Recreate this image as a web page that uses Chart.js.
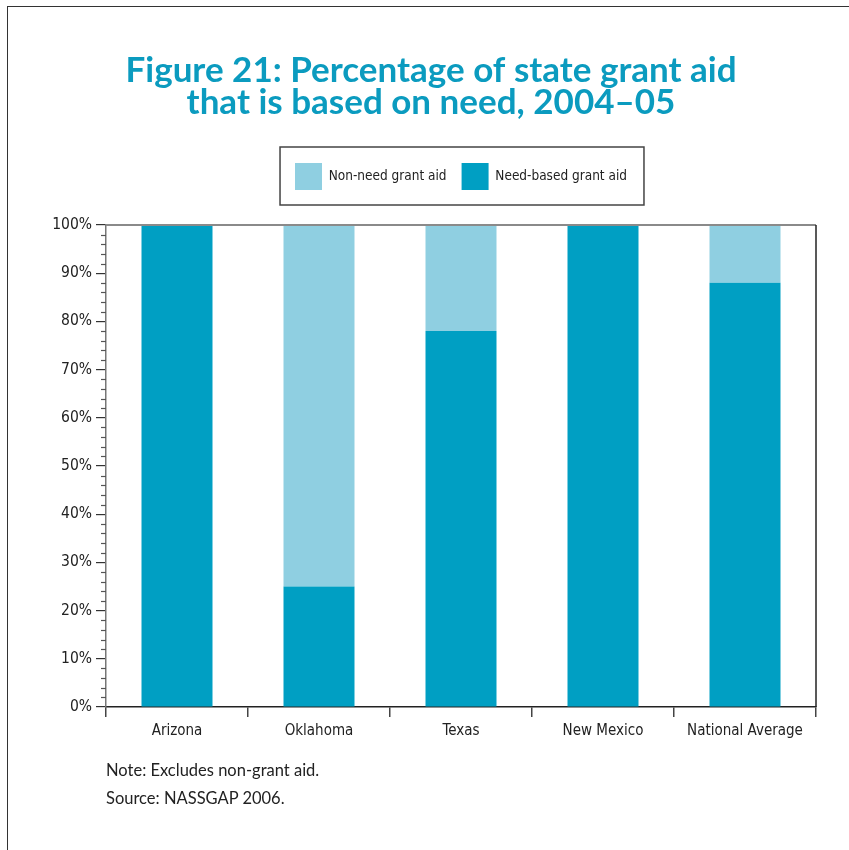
<!DOCTYPE html>
<html>
<head>
<meta charset="utf-8">
<script src="https://cdn.jsdelivr.net/npm/chart.js@4.4.1/dist/chart.umd.min.js"></script>
<style>
  body { margin: 0; background: #fff; }
  #wrap { position: relative; width: 849px; height: 850px; overflow: hidden; }
  #frame { position: absolute; left: 7px; top: 6px; width: 900px; height: 900px;
           border-left: 1.5px solid #333; border-top: 1.5px solid #333; }
  #chart { position: absolute; left: 0; top: 0; }
  .note { position: absolute; left: 106px; font-family: Lato, "Open Sans", sans-serif;
          font-size: 16.5px; color: #222; }
</style>
</head>
<body>
<div id="wrap">
  <div id="frame"></div>
  <canvas id="chart" width="849" height="850"></canvas>
  <div class="note" style="top:760px">Note: Excludes non-grant aid.</div>
  <div class="note" style="top:788px">Source: NASSGAP 2006.</div>
</div>
<script>
// data
const states = ['Arizona', 'Oklahoma', 'Texas', 'New Mexico', 'National Average'];
const needBased = [100, 25, 78, 100, 88];
const nonNeed = [0, 75, 22, 0, 12];
const yTicks = [0, 10, 20, 30, 40, 50, 60, 70, 80, 90, 100];

const narrow = '"Liberation Sans Narrow", "DejaVu Sans Condensed", sans-serif';

// legend height fixed so the plot starts where the figure does
const legendSize = {
  id: 'legendSize',
  beforeInit(chart) {
    const fit = chart.legend.fit;
    chart.legend.fit = function () {
      fit.call(this);
      this.height = 77;
    };
  }
};

// legend frame, plot top/right lines and minor ticks
const extras = {
  id: 'extras',
  afterDraw(chart) {
    const ctx = chart.ctx;
    const area = chart.chartArea;
    const y = chart.scales.y;
    const boxes = chart.legend.legendHitBoxes;

    ctx.save();
    // box round the legend
    if (boxes && boxes.length) {
      const l = Math.min(...boxes.map(b => b.left)) - 15;
      const r = Math.max(...boxes.map(b => b.left + b.width)) + 17;
      const t = boxes[0].top - 16;
      ctx.strokeStyle = '#444';
      ctx.lineWidth = 1.5;
      ctx.strokeRect(l, t, r - l, 58);
    }
    // minor ticks every 2%
    ctx.strokeStyle = '#555';
    ctx.lineWidth = 1.2;
    for (let v = 2; v < 100; v += 2) {
      if (v % 10 === 0) continue;
      const py = Math.round(y.getPixelForValue(v)) + 0.5;
      ctx.beginPath();
      ctx.moveTo(area.left - 5, py);
      ctx.lineTo(area.left, py);
      ctx.stroke();
    }
    // top and right edge of the plot
    ctx.strokeStyle = '#8a8a8a';
    ctx.lineWidth = 2;
    ctx.beginPath();
    ctx.moveTo(area.left, area.top);
    ctx.lineTo(area.right, area.top);
    ctx.stroke();
    ctx.strokeStyle = '#222';
    ctx.lineWidth = 1.5;
    ctx.beginPath();
    ctx.moveTo(area.right, area.top);
    ctx.lineTo(area.right, area.bottom);
    ctx.stroke();
    ctx.restore();
  }
};

const ctx = document.getElementById('chart').getContext('2d');
new Chart(ctx, {
  type: 'bar',
  data: {
    labels: states,
    datasets: [
      {
        label: 'Need-based grant aid',
        data: needBased,
        backgroundColor: '#009fc3',
        barPercentage: 0.5,
        categoryPercentage: 1.0
      },
      {
        label: 'Non-need grant aid',
        data: nonNeed,
        backgroundColor: '#8fcfe1',
        barPercentage: 0.5,
        categoryPercentage: 1.0
      }
    ]
  },
  options: {
    responsive: false,
    animation: false,
    layout: { padding: { left: 46, right: 33, top: 0, bottom: 103 } },
    plugins: {
      title: {
        display: true,
        text: ['Figure 21: Percentage of state grant aid', 'that is based on need, 2004\u201305'],
        color: '#0b9bbf',
        font: { family: 'Lato, "Open Sans", sans-serif', size: 35, weight: 'bold', lineHeight: '32px' },
        padding: { top: 55, bottom: 29 }
      },
      legend: {
        display: true,
        position: 'top',
        fullSize: false,
        reverse: true,
        labels: {
          boxWidth: 27,
          boxHeight: 27,
          padding: 15,
          color: '#222',
          font: { family: narrow, size: 13.5 }
        }
      },
      tooltip: { enabled: false }
    },
    scales: {
      x: {
        stacked: true,
        grid: { drawOnChartArea: false, tickLength: 10, color: '#444', lineWidth: 1.5, offset: true },
        border: { color: '#222', width: 1.5 },
        ticks: { color: '#222', font: { family: narrow, size: 15 }, padding: 5, maxRotation: 0 },
        afterFit(s) { s.height = 40; }
      },
      y: {
        stacked: true,
        min: 0,
        max: 100,
        afterBuildTicks(s) { s.ticks = yTicks.map(v => ({ value: v })); },
        grid: { drawOnChartArea: false, tickLength: 10, color: '#333', lineWidth: 1.2 },
        border: { color: '#777', width: 1.5 },
        ticks: {
          color: '#222',
          font: { family: narrow, size: 15.5 },
          padding: 4,
          callback: v => v + '%'
        },
        afterFit(s) { s.width = 60; }
      }
    }
  },
  plugins: [legendSize, extras]
});
</script>
</body>
</html>
